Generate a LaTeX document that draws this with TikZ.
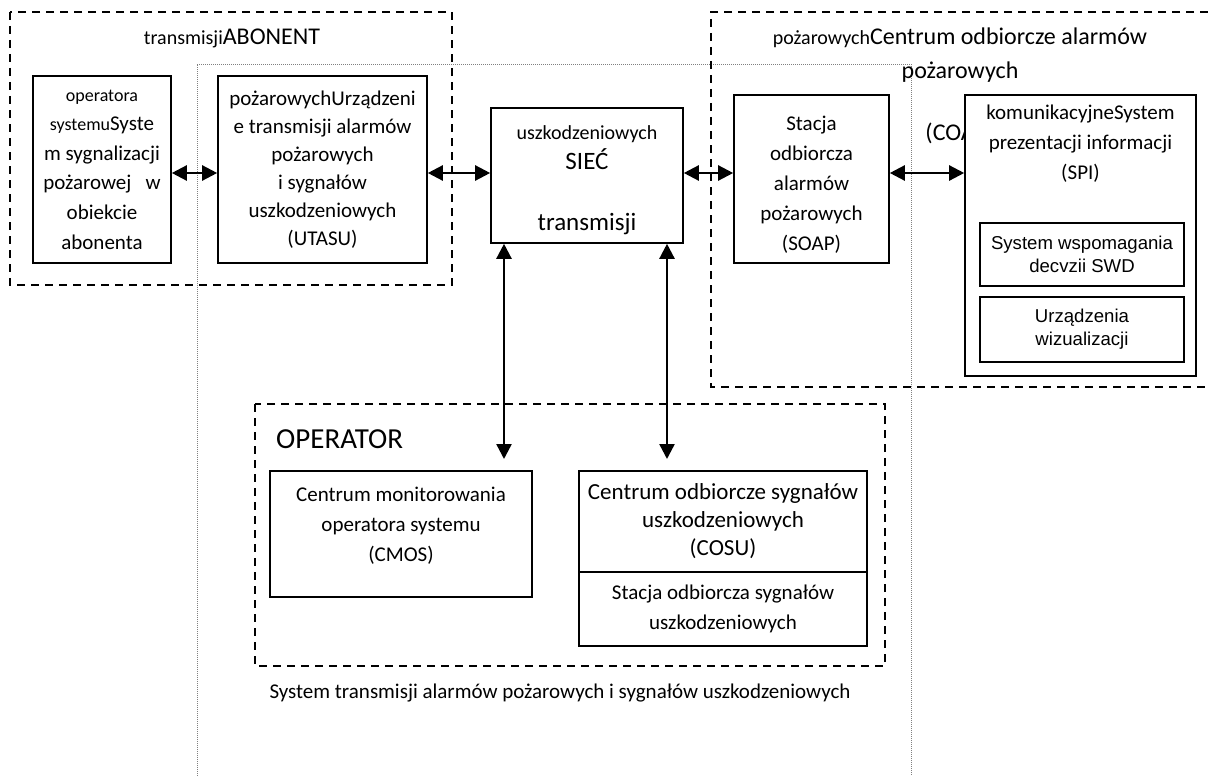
\documentclass[tikz,border=0pt]{standalone}
\usepackage{fontspec}
\setmainfont{Carlito}
\newfontfamily\arialfont{Liberation Sans}
\usetikzlibrary{arrows.meta}
\newcommand{\fs}[2]{\fontsize{#1}{#2}\selectfont}

\begin{document}
\begin{tikzpicture}[>={Triangle[length=15pt,width=15pt]},x=1pt,y=-1pt,
		box/.style={draw,line width=1.6pt,inner sep=0pt,align=center,fill=white,font=\fs{21}{30}},
		group/.style={line width=1.8pt,dash pattern=on 8pt off 6pt},
		link/.style={<->,line width=2.4pt},
		txt/.style={inner sep=0pt,align=center,font=\fs{21}{30}}]
		\useasboundingbox (0,0) rectangle (1208,776);
		% obszar systemu (szary, kropkowany)
		\draw[gray,line width=0.8pt,dash pattern=on 1pt off 1pt](197,776)--(197,64)--(911,64)--(911,776);
		% obszary przerywane
		\draw[group](10,12) rectangle (452,285);
		\draw[group](1208,12)--(711,12)--(711,387)--(1208,387);
		\draw[group](255,404) rectangle (885,666);
		\node[txt,font=\fs{24}{30}] (abotitle) at (232,38) {{\fs{20}{30}transmisji}ABONENT};
		\node[txt,font=\fs{24}{34}] (coaptitle) at (960,55) {{\fs{20}{34}pożarowych}Centrum odbiorcze alarmów\\pożarowych};
		\node[txt,font=\fs{24}{30}] (coapabbr) at (960,133) {(COAP)};
		\node[txt,anchor=west,font=\fs{29}{34}] (optitle) at (276,439) {OPERATOR};
		\node[txt] (caption) at (560,693) {System transmisji alarmów pożarowych i sygnałów uszkodzeniowych};
		% bloki
		\node[box,minimum width=138pt,minimum height=187pt,font=\fs{21}{29.6}] (sys) at (102,169.5)
			{{\fs{18}{29.6}operatora}\\{\fs{18}{29.6}systemu}Syste\\m sygnalizacji\\pożarowej\ \ \ w\\obiekcie\\abonenta};
		\node[box,minimum width=209pt,minimum height=187pt,font=\fs{21}{28}] (utasu) at (322.5,169.5)
			{pożarowychUrządzeni\\e transmisji alarmów\\pożarowych\\i sygnałów\\uszkodzeniowych\\(UTASU)};
		\node[box,minimum width=192pt,minimum height=135pt] (siec) at (587,175.5) {};
		\node[txt,font=\fs{25}{30.5}] (sientxt) at (587,180)
			{{\fs{20}{30.5}uszkodzeniowych}\\SIEĆ\\[30pt]transmisji};
		\node[box,minimum width=155pt,minimum height=168pt] (soap) at (811.5,179) {};
		\node[txt] (soaptxt) at (811.5,185) {Stacja\\odbiorcza\\alarmów\\pożarowych\\(SOAP)};
		\node[box,minimum width=231pt,minimum height=281pt] (spi) at (1080.5,235.5) {};
		\node[txt] (spitxt) at (1080.5,144) {komunikacyjneSystem\\prezentacji informacji\\(SPI)};
		\node[box,minimum width=204pt,minimum height=63pt,font=\arialfont\fs{18.6}{23}] (swd) at (1082,254.5)
			{System wspomagania\\decvzii SWD};
		\node[box,minimum width=204pt,minimum height=65pt,font=\arialfont\fs{18.6}{23}] (wiz) at (1082,329.5)
			{Urządzenia\\wizualizacji};
		\node[box,minimum width=262pt,minimum height=126pt] (cmos) at (401,534) {};
		\node[txt] (cmostxt) at (401,525.5) {Centrum monitorowania\\operatora systemu\\(CMOS)};
		\node[box,minimum width=288pt,minimum height=101pt,font=\fs{23}{28}] (cosu) at (723,521.5)
			{Centrum odbiorcze sygnałów\\uszkodzeniowych\\(COSU)};
		\node[box,minimum width=288pt,minimum height=74pt] (sosu) at (723,609)
			{Stacja odbiorcza sygnałów\\uszkodzeniowych};
		% polaczenia
		\coordinate (row) at (0,173);
		\draw[link](sys.east|-row)--(utasu.west|-row);
		\draw[link](utasu.east|-row)--(siec.west|-row);
		\draw[link](siec.east|-row)--(soap.west|-row);
		\draw[link](soap.east|-row)--(spi.west|-row);
		\coordinate (cmosin) at (504,459);
		\coordinate (cosuin) at (667,459);
		\draw[link](siec.south-|cmosin)--(cmosin);
		\draw[link](siec.south-|cosuin)--(cosuin);
	\end{tikzpicture}
\end{document}
